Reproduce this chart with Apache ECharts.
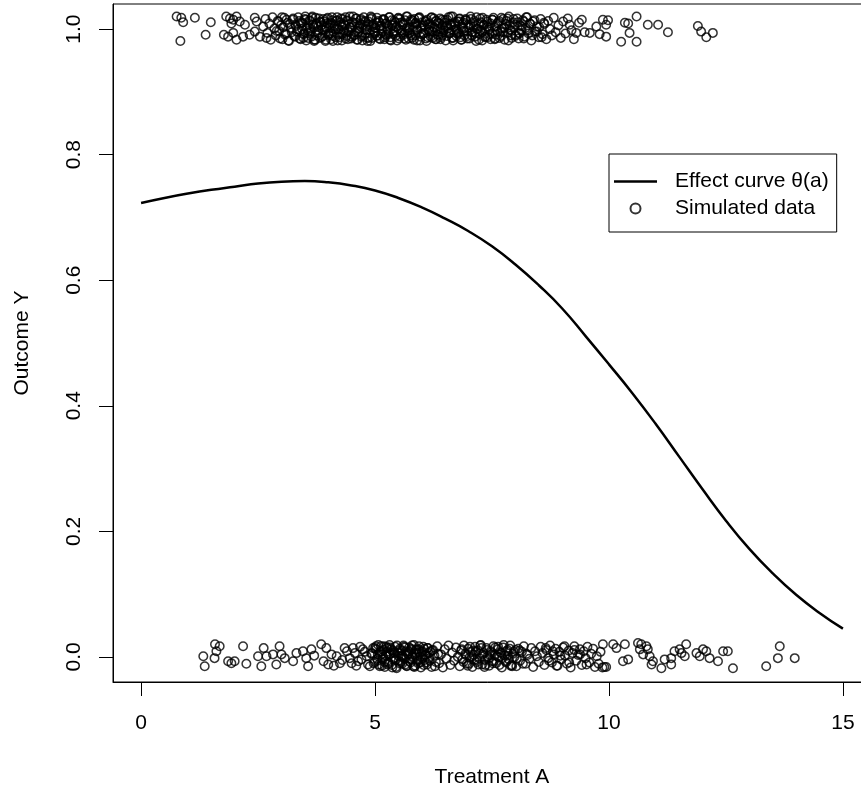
<!DOCTYPE html>
<html lang="en">

<head>
    <meta charset="UTF-8" />
    <title>Effect curve</title>
    <script src="https://cdn.jsdelivr.net/npm/echarts@6.0.0/dist/echarts.min.js"></script>
    <style>
        body { margin: 0; background: #fff; }
    </style>
</head>

<body>
    <div id="main" style="width: 861px; height: 787px"></div>
    <script type="text/javascript">
        // effect curve theta(a)
        let curveA = [0, 0.5, 1, 1.5, 2, 2.5, 3, 3.5, 4, 4.5, 5, 5.5, 6, 6.5, 7, 7.5,
            8, 8.5, 9, 9.5, 10, 10.5, 11, 11.5, 12, 12.5, 13, 13.5, 14, 14.5, 15];
        let curveY = [0.723, 0.731, 0.738, 0.744, 0.749, 0.754, 0.757, 0.758, 0.756, 0.751, 0.743,
            0.731, 0.716, 0.698, 0.678, 0.654, 0.625, 0.592, 0.555, 0.511, 0.466, 0.420,
            0.371, 0.319, 0.267, 0.217, 0.172, 0.133, 0.099, 0.070, 0.045];

        // simulated data with Y = 1 (jittered)
        let topA = [0.76, 0.86, 0.90, 0.84, 1.15, 1.38, 1.49, 1.77, 1.82, 1.90, 1.97, 2.04, 1.93, 2.11,
            2.22, 2.43, 2.47, 1.86, 1.97, 2.04, 2.18, 2.32, 2.43, 2.54, 2.68,
            2.61, 2.66, 2.70, 2.74, 2.77, 2.81, 2.85, 2.88, 2.92, 2.95, 2.99, 3.02, 3.06, 3.09, 3.13, 3.16, 3.20, 3.24,
            3.27, 3.30, 3.33, 3.36, 3.39, 3.42, 3.44, 3.47, 3.50, 3.53, 3.55, 3.58, 3.61, 3.64, 3.66, 3.69,
            3.72, 3.74, 3.77, 3.80, 3.82, 3.85, 3.88, 3.91, 3.94,
            3.96, 3.99, 4.01, 4.04, 4.06, 4.09, 4.11, 4.14, 4.16, 4.19,
            4.21, 4.24, 4.26, 4.29, 4.31, 4.34, 4.36, 4.39, 4.41, 4.44,
            4.46, 4.49, 4.51, 4.54, 4.56, 4.59, 4.61, 4.64, 4.66, 4.69,
            4.71, 4.74, 4.76, 4.79, 4.81, 4.84, 4.86, 4.89, 4.91, 4.94,
            4.96, 4.99, 5.01, 5.04, 5.06, 5.09, 5.11, 5.14, 5.16, 5.19,
            5.21, 5.24, 5.26, 5.29, 5.31, 5.34, 5.36, 5.39, 5.41, 5.44,
            5.46, 5.49, 5.51, 5.54, 5.56, 5.59, 5.61, 5.64, 5.66, 5.69,
            5.71, 5.74, 5.76, 5.79, 5.81, 5.84, 5.86, 5.89, 5.91, 5.94,
            5.96, 5.99, 6.01, 6.04, 6.06, 6.09, 6.11, 6.14, 6.16, 6.19,
            6.21, 6.24, 6.26, 6.29, 6.31, 6.34, 6.36, 6.39, 6.41, 6.44,
            6.46, 6.49, 6.51, 6.54, 6.56, 6.59, 6.61, 6.64, 6.66, 6.69,
            6.71, 6.74, 6.76, 6.79, 6.81, 6.84, 6.86, 6.89, 6.91, 6.94, 6.96,
            6.99, 7.02, 7.05, 7.08, 7.11, 7.14, 7.17, 7.20, 7.23, 7.26,
            7.29, 7.32, 7.35, 7.38, 7.41, 7.44, 7.47, 7.50, 7.53, 7.56,
            7.59, 7.62, 7.65, 7.68, 7.71, 7.74, 7.77, 7.80, 7.83, 7.86,
            7.89, 7.92, 7.95, 7.98, 8.01, 8.04, 8.07, 8.10, 8.13, 8.16,
            8.19, 8.22, 8.25, 8.28, 8.31, 8.34, 8.38, 8.42, 8.46, 8.50,
            8.54, 8.58, 8.62, 8.66, 8.70, 8.74, 8.78, 8.82, 8.86,
            8.92, 8.97, 9.02, 9.07, 9.12, 9.16, 9.20, 9.25, 9.30, 9.36, 9.42, 9.48, 9.59, 9.73, 9.80,
            9.87, 9.94, 9.94, 9.98,
            10.26, 10.34, 10.41, 10.44, 10.59, 10.59, 10.83, 11.05, 11.26, 11.90, 11.97, 12.08, 12.22];
        let topY = [1.020, 1.018, 1.011, 0.981, 1.018, 0.991, 1.011, 0.991, 1.020, 1.017, 1.015, 1.020, 1.009, 1.012,
            1.007, 1.018, 1.012, 0.988, 0.994, 0.983, 0.988, 0.991, 0.996, 0.988, 0.986,
            1.004, 1.016, 0.994, 1.009, 0.983, 1.019, 1.001, 0.990, 1.013, 0.997, 1.006, 0.984, 1.018, 0.993, 1.010, 0.981, 1.002, 1.015,
            0.989, 1.007, 0.996, 1.019, 0.985, 1.011, 1.000, 0.992, 1.016, 0.982, 1.005, 0.997, 1.013, 0.988, 1.020, 1.003,
            0.983, 1.009, 0.994, 1.017, 0.986, 1.006, 0.999, 1.012, 0.981,
            1.002, 1.018, 0.990, 1.008, 0.984, 1.014, 0.996, 1.004, 0.987, 1.019,
            1.000, 0.992, 1.011, 0.982, 1.016, 0.998, 1.006, 0.989, 1.013, 0.995,
            1.020, 0.985, 1.003, 1.010, 0.991, 1.017, 0.983, 1.001, 0.997, 1.014,
            0.988, 1.007, 1.019, 0.993, 1.004, 0.981, 1.012, 0.999, 1.016, 0.986,
            1.008, 0.995, 1.002, 1.018, 0.990, 1.011, 0.984, 1.005, 0.997, 1.015,
            0.987, 1.009, 1.001, 0.992, 1.019, 0.982, 1.006, 0.996, 1.013, 0.989,
            1.003, 1.017, 0.985, 1.010, 0.998, 1.007, 0.991, 1.014, 0.983, 1.020,
            1.000, 0.994, 1.012, 0.986, 1.004, 1.016, 0.990, 1.008, 0.997, 1.018,
            0.982, 1.002, 1.011, 0.993, 1.006, 0.985, 1.015, 0.999, 1.009, 0.988,
            1.019, 0.996, 1.003, 0.984, 1.013, 1.000, 0.991, 1.017, 0.987, 1.006,
            0.995, 1.010, 0.982, 1.015, 1.001, 0.993, 1.008, 0.986, 1.020, 0.998,
            1.005, 0.989, 1.012, 0.994, 1.017, 0.983, 1.003, 1.010, 0.990, 1.014, 0.997,
            1.007, 0.985, 1.016, 0.995, 1.004, 0.988, 1.019, 1.000, 0.992, 1.011,
            0.982, 1.006, 0.997, 1.015, 0.987, 1.002, 1.009, 0.993, 1.018, 0.984,
            1.005, 0.996, 1.013, 0.989, 1.001, 1.016, 0.983, 1.008, 0.994, 1.020,
            0.999, 0.986, 1.011, 1.003, 0.991, 1.017, 0.985, 1.006, 0.998, 1.014,
            0.988, 1.002, 1.019, 0.993, 1.009, 0.982, 1.012, 0.996, 1.004, 0.987,
            1.016, 0.992, 1.008, 0.984, 1.013, 1.000, 0.990, 1.018, 0.995,
            1.006, 0.986, 1.012, 0.993, 1.017, 1.007, 0.998, 0.984, 0.994, 1.010, 1.015, 0.995, 0.994, 1.004, 0.992,
            1.015, 0.988, 1.007, 1.014,
            0.980, 1.010, 1.009, 0.994, 1.020, 0.980, 1.007, 1.007, 0.995, 1.005, 0.996, 0.987, 0.994];

        // the black core of the Y = 1 band
        let topDenseA = [2.90, 2.94, 2.97, 3.01, 3.04, 3.08, 3.11, 3.15, 3.18, 3.22,
            3.25, 3.29, 3.31, 3.35, 3.38, 3.41, 3.45, 3.48, 3.51, 3.54,
            3.57, 3.60, 3.63, 3.67, 3.70, 3.73, 3.76, 3.79, 3.83, 3.86,
            3.89, 3.92, 3.95, 3.98, 4.02, 4.05, 4.08, 4.10, 4.13, 4.17,
            4.20, 4.23, 4.27, 4.30, 4.33, 4.37, 4.40, 4.43, 4.47, 4.50,
            4.53, 4.57, 4.60, 4.63, 4.67, 4.70, 4.73, 4.77, 4.80, 4.83,
            4.87, 4.90, 4.93, 4.97, 5.00, 5.03, 5.07, 5.10, 5.13, 5.17,
            5.20, 5.23, 5.27, 5.30, 5.33, 5.37, 5.40, 5.43, 5.47, 5.50,
            5.53, 5.57, 5.60, 5.63, 5.67, 5.70, 5.73, 5.77, 5.80, 5.83,
            5.87, 5.90, 5.93, 5.97, 6.00, 6.03, 6.07, 6.10, 6.13, 6.17,
            6.20, 6.23, 6.27, 6.30, 6.33, 6.37, 6.40, 6.43, 6.47, 6.50,
            6.53, 6.57, 6.60, 6.63, 6.67, 6.70, 6.73, 6.77, 6.80, 6.83,
            6.87, 6.90, 6.93, 6.97, 7.00, 7.04, 7.07, 7.11, 7.15, 7.18,
            7.22, 7.25, 7.29, 7.33, 7.36, 7.40, 7.43, 7.47, 7.51, 7.55,
            7.58, 7.62, 7.66, 7.70, 7.73, 7.77, 7.81, 7.85, 7.88, 7.92,
            7.96, 8.00, 8.05, 8.09, 8.14, 8.18, 8.23, 8.27, 8.32, 8.36,
            8.41, 8.46, 8.51, 8.56, 8.61];
        let topDenseY = [0.997, 1.012, 0.985, 1.019, 1.003, 0.991, 1.015, 0.982, 1.008, 0.995,
            1.017, 0.988, 1.005, 0.999, 1.013, 0.984, 1.010, 0.993, 1.020, 1.001,
            0.986, 1.014, 0.996, 1.007, 0.981, 1.018, 0.990, 1.004, 1.011, 0.987,
            1.016, 0.998, 0.983, 1.009, 1.002, 0.994, 1.019, 0.989, 1.006, 1.013,
            0.982, 1.000, 1.017, 0.992, 1.008, 0.985, 1.014, 0.997, 1.003, 0.988,
            1.020, 0.995, 1.010, 0.983, 1.005, 1.016, 0.990, 0.999, 1.012, 0.986,
            1.007, 0.981, 1.018, 0.996, 1.002, 0.989, 1.013, 1.004, 0.993, 1.015,
            0.984, 1.009, 0.998, 1.019, 0.987, 1.006, 0.992, 1.011, 0.982, 1.001,
            1.016, 0.994, 1.008, 0.985, 1.020, 0.997, 1.003, 0.990, 1.014, 0.983,
            1.010, 0.999, 1.017, 0.988, 1.005, 0.993, 1.012, 0.981, 1.007, 0.996,
            1.018, 0.986, 1.002, 1.013, 0.991, 1.009, 0.984, 1.015, 0.998, 1.004,
            0.989, 1.019, 0.995, 1.006, 0.982, 1.011, 1.000, 0.992, 1.016, 0.987,
            1.008, 0.997, 1.014, 0.985, 1.003, 1.020, 0.990, 1.010, 0.994, 1.001,
            0.983, 1.017, 0.996, 1.007, 0.988, 1.012, 0.999, 0.984, 1.015, 1.004,
            0.991, 1.009, 0.986, 1.018, 0.995, 1.002, 1.013, 0.982, 1.006, 0.997,
            1.016, 0.989, 1.011, 0.993, 1.004, 0.985, 1.019, 0.998, 1.008, 0.990,
            1.014, 0.996, 1.003, 0.987, 1.010];
        let topCoreA = [3.42, 3.47, 3.52, 3.56, 3.61, 3.65, 3.70, 3.74, 3.79, 3.83,
            3.88, 3.92, 3.97, 4.01, 4.06, 4.10, 4.15, 4.19, 4.24, 4.28,
            4.33, 4.37, 4.42, 4.46, 4.51, 4.55, 4.60, 4.64, 4.69, 4.73,
            4.78, 4.82, 4.87, 4.91, 4.96, 5.00, 5.05, 5.09, 5.14, 5.18,
            5.23, 5.27, 5.32, 5.36, 5.41, 5.45, 5.50, 5.54, 5.59, 5.63,
            5.68, 5.72, 5.77, 5.81, 5.86, 5.90, 5.95, 5.99, 6.04, 6.08,
            6.13, 6.17, 6.22, 6.26, 6.31, 6.35, 6.40, 6.44, 6.49, 6.53,
            6.58, 6.62, 6.67, 6.71, 6.76, 6.80, 6.85, 6.89, 6.94, 6.98,
            7.03, 7.07, 7.12, 7.16, 7.21, 7.25, 7.30, 7.35, 7.40, 7.45,
            7.51, 7.57, 7.63, 7.69, 7.76, 7.83, 7.91, 7.99, 8.08, 8.18];
        let topCoreY = [1.009, 0.986, 1.015, 0.994, 1.002, 1.018, 0.983, 1.007, 0.998, 1.012,
            0.989, 1.004, 1.016, 0.992, 1.010, 0.981, 1.000, 1.014, 0.987, 1.006,
            0.996, 1.019, 0.984, 1.003, 1.011, 0.990, 1.017, 0.995, 1.008, 0.982,
            1.013, 0.999, 0.986, 1.020, 1.005, 0.993, 1.010, 0.985, 1.001, 1.016,
            0.991, 1.007, 0.983, 1.014, 0.997, 1.004, 1.018, 0.988, 1.011, 0.994,
            1.002, 0.985, 1.015, 0.999, 1.009, 0.982, 1.019, 0.992, 1.006, 1.013,
            0.987, 1.003, 0.996, 1.017, 0.984, 1.010, 1.000, 0.990, 1.014, 1.005,
            0.993, 1.020, 0.986, 1.008, 0.997, 1.012, 0.983, 1.001, 1.016, 0.989,
            1.006, 0.995, 1.013, 0.981, 1.009, 0.998, 1.018, 0.987, 1.004, 0.992,
            1.015, 0.985, 1.011, 0.996, 1.002, 1.017, 0.990, 1.007, 0.994, 1.012];

        // simulated data with Y = 0 (jittered)
        let bottomA = [1.33, 1.36, 1.58, 1.68, 1.61, 1.57, 1.86, 1.93, 2.00, 2.18, 2.25, 2.50, 2.57, 2.62,
            2.68, 2.82, 2.89, 2.96, 3.00, 3.07, 3.25, 3.32, 3.46, 3.53, 3.57, 3.64, 3.70, 3.85, 3.90, 3.96,
            4.00, 4.07, 4.12, 4.18, 4.25, 4.30, 4.35, 4.40, 4.46, 4.50, 4.53, 4.57, 4.60, 4.64, 4.68, 4.71,
            4.74, 4.78, 4.82, 4.85, 4.89, 4.92, 4.96, 4.99, 5.02, 5.06,
            5.08, 5.11, 5.13, 5.16, 5.18, 5.21, 5.23, 5.26, 5.28, 5.31,
            5.33, 5.36, 5.38, 5.41, 5.43, 5.46, 5.48, 5.51, 5.53, 5.56,
            5.58, 5.61, 5.63, 5.66, 5.68, 5.71, 5.73, 5.76, 5.78, 5.81,
            5.83, 5.86, 5.88, 5.91, 5.93, 5.96, 5.98, 6.01, 6.03, 6.06,
            6.08, 6.11, 6.13, 6.16, 6.18, 6.21, 6.24, 6.27, 6.30,
            6.33, 6.37, 6.41, 6.45, 6.49, 6.53, 6.57, 6.61, 6.65, 6.69,
            6.73, 6.77, 6.81, 6.84, 6.87, 6.90, 6.93, 6.96, 6.99, 7.02,
            7.05, 7.08, 7.11, 7.14, 7.17, 7.20, 7.23, 7.26, 7.29, 7.32,
            7.35, 7.38, 7.41, 7.44, 7.47, 7.50, 7.53, 7.56, 7.59, 7.62,
            7.65, 7.68, 7.71, 7.74, 7.77, 7.80, 7.83, 7.86, 7.89, 7.92,
            7.95, 7.98, 8.02, 8.06, 8.10, 8.14, 8.18, 8.22, 8.26, 8.30,
            8.34, 8.38, 8.42, 8.46, 8.50, 8.54, 8.58, 8.62, 8.66, 8.70,
            8.74, 8.78, 8.82, 8.86, 8.90, 8.94, 8.98, 9.02, 9.06, 9.10,
            9.14, 9.18, 9.22, 9.26, 9.30, 9.34, 9.38, 9.42, 9.46, 9.50,
            9.54, 9.58, 9.62, 9.66, 9.70, 9.74, 9.78, 9.82, 9.86, 9.90, 9.94,
            9.87, 10.09, 10.16, 10.34, 10.30, 10.41, 10.62, 10.69, 10.66, 10.80, 10.83, 10.73, 10.87,
            10.91, 10.94, 11.12, 11.19, 11.33, 11.33, 11.40, 11.51, 11.55, 11.62, 11.65, 11.87, 11.94,
            12.01, 12.08, 12.15, 12.33, 12.44, 12.54, 12.65, 13.36, 13.61, 13.65, 13.97];
        let bottomY = [0.001, -0.015, 0.020, 0.017, 0.009, -0.002, -0.007, -0.010, -0.007, 0.017, -0.011, 0.001, -0.015, 0.014,
            0.001, 0.004, -0.012, 0.017, 0.004, -0.002, -0.007, 0.006, 0.009, -0.002, -0.015, 0.012, 0.002, 0.020, -0.007, 0.014,
            -0.012, 0.004, -0.014, 0.001, -0.010, -0.005, 0.014, 0.009, -0.002, -0.010, 0.014, 0.006, -0.014, -0.007, 0.016, -0.004,
            0.012, 0.008, 0.001, -0.012, -0.015, 0.005, 0.014, -0.008, 0.017, 0.004,
            -0.012, 0.008, 0.017, -0.004, 0.011, -0.016, 0.002, 0.014, -0.008, 0.019,
            0.005, -0.013, 0.010, -0.002, 0.016, -0.018, 0.007, -0.006, 0.013, 0.001,
            -0.011, 0.018, -0.003, 0.009, -0.015, 0.004, 0.015, -0.009, 0.011, -0.001,
            0.019, -0.014, 0.006, -0.007, 0.012, 0.000, -0.017, 0.009, 0.016, -0.005,
            0.003, -0.012, 0.014, -0.002, 0.008, -0.016, 0.011, 0.002, -0.008,
            0.017, -0.010, 0.004, -0.017, 0.012, -0.003, 0.018, -0.013, 0.007, -0.006,
            0.015, 0.000, -0.015, 0.010, -0.004, 0.018, 0.005, -0.011, 0.013, -0.001,
            0.008, -0.016, 0.003, 0.016, -0.008, 0.010, -0.002, 0.019, -0.012, 0.006,
            -0.005, 0.014, 0.001, -0.014, 0.009, -0.007, 0.017, 0.003, -0.010, 0.012,
            -0.001, 0.007, -0.017, 0.015, 0.002, -0.009, 0.011, -0.004, 0.018, -0.013,
            0.005, 0.000, -0.015, 0.013, -0.006, 0.008, 0.017, -0.011, 0.003, -0.003,
            0.014, -0.016, 0.009, 0.001, -0.008, 0.016, 0.006, -0.013, 0.011, -0.002,
            0.018, -0.009, 0.004, 0.013, -0.014, 0.008, -0.004, 0.015, 0.002, -0.011,
            0.010, -0.017, 0.006, 0.017, -0.006, 0.003, 0.012, -0.013, 0.009, -0.002,
            0.016, -0.009, 0.005, 0.013, -0.016, 0.001, -0.011, 0.008, -0.017, -0.016, -0.016,
            0.020, 0.020, 0.014, 0.020, -0.007, -0.004, 0.022, 0.020, 0.012, 0.017, 0.012, 0.004, 0.001,
            -0.012, -0.007, -0.018, -0.004, -0.012, -0.002, 0.009, 0.012, 0.006, 0.001, 0.020, 0.006, 0.001,
            0.012, 0.009, -0.002, -0.007, 0.009, 0.009, -0.018, -0.015, -0.002, 0.017, -0.002];

        // the denser stretches of the Y = 0 band
        let bottomDenseA = [4.93, 4.97, 5.00, 5.04, 5.07, 5.10, 5.14, 5.17, 5.20, 5.24,
            5.27, 5.30, 5.34, 5.37, 5.40, 5.44, 5.47, 5.50, 5.54, 5.57,
            5.60, 5.64, 5.67, 5.70, 5.74, 5.77, 5.80, 5.84, 5.87, 5.90,
            5.94, 5.97, 6.00, 6.04, 6.08, 6.12, 6.17, 6.22, 6.28, 6.35,
            6.85, 6.89, 6.94, 6.98, 7.03, 7.07, 7.12, 7.16, 7.21, 7.25,
            7.30, 7.34, 7.39, 7.43, 7.48, 7.52, 7.57, 7.61, 7.66, 7.70,
            7.75, 7.79, 7.84, 7.88, 7.93, 7.97, 8.03, 8.09, 8.16, 8.24,
            8.65, 8.72, 8.80, 8.88, 8.96, 9.05, 9.15, 9.26, 9.38, 9.52,
            5.02, 5.06, 5.12, 5.15, 5.19, 5.25, 5.29, 5.32, 5.39, 5.42,
            5.45, 5.52, 5.55, 5.59, 5.62, 5.65, 5.72, 5.75, 5.79, 5.82,
            5.85, 5.89, 5.92, 5.95, 6.02, 6.05, 6.10, 6.15, 7.01, 7.09,
            7.18, 7.27, 7.36, 7.45, 7.54, 7.63, 7.72, 7.81, 7.90, 8.00];
        let bottomDenseY = [0.006, -0.010, 0.014, -0.003, 0.019, -0.015, 0.009, 0.000, -0.008, 0.016,
            -0.012, 0.004, 0.012, -0.017, 0.007, -0.005, 0.018, 0.002, -0.011, 0.010,
            -0.001, 0.015, -0.014, 0.005, -0.007, 0.013, 0.001, -0.016, 0.011, -0.004,
            0.017, -0.009, 0.008, -0.013, 0.003, 0.014, -0.006, 0.010, -0.015, 0.005,
            0.012, -0.008, 0.003, -0.014, 0.016, 0.000, -0.005, 0.009, -0.012, 0.018,
            0.004, -0.016, 0.011, -0.002, 0.007, -0.010, 0.015, 0.001, -0.013, 0.006,
            0.019, -0.007, 0.002, 0.013, -0.015, 0.008, -0.003, 0.010, -0.011, 0.005,
            0.014, -0.006, 0.009, -0.014, 0.002, 0.017, -0.009, 0.011, 0.004, -0.012,
            0.012, -0.006, 0.003, -0.014, 0.017, 0.008, -0.010, 0.015, -0.003, 0.006,
            -0.016, 0.010, -0.008, 0.002, 0.016, -0.012, 0.008, -0.004, 0.018, -0.015,
            0.004, 0.012, -0.010, 0.007, -0.002, 0.013, -0.009, 0.006, -0.011, 0.010,
            -0.005, 0.014, -0.013, 0.003, -0.007, 0.016, -0.002, 0.009, -0.014, 0.011];

        let xTicks = [0, 5, 10, 15];
        let yTicks = [0, 0.2, 0.4, 0.6, 0.8, 1.0];

        let curveData = curveA.map((a, i) => [a, curveY[i]]);
        let pointData = [];
        let addPoints = (xs, ys) => {
            for (let i = 0; i < xs.length; i++) pointData.push([xs[i], ys[i]]);
        };
        addPoints(topA, topY);
        addPoints(topDenseA, topDenseY);
        addPoints(topCoreA, topCoreY);
        addPoints(bottomA, bottomY);
        addPoints(bottomDenseA, bottomDenseY);

        let font = "'Liberation Sans', Arial, Helvetica, sans-serif";

        let options = {
            animation: false,
            backgroundColor: "#fff",
            textStyle: { fontFamily: font, color: "#000" },
            grid: {
                left: 113, top: 4, width: 758, height: 678,
                show: true, borderColor: "#000", borderWidth: 1,
                containLabel: false, outerBoundsMode: "none",
            },
            legend: {
                orient: "vertical",
                left: 609, top: 154,
                padding: [17, 8, 13, 5],
                borderColor: "#000", borderWidth: 1,
                itemWidth: 43, itemHeight: 10, itemGap: 6,
                textStyle: { fontFamily: font, fontSize: 21, color: "#000", padding: [0, 0, 0, 13] },
                data: [
                    { name: "Effect curve θ(a)", icon: "path://M0,0h43v2.5h-43z" },
                    { name: "Simulated data" },
                ],
            },
            xAxis: {
                type: "value",
                min: -0.6, max: 15.6,
                name: "Treatment A",
                nameLocation: "middle",
                nameGap: 85,
                nameTextStyle: { fontSize: 21, color: "#000" },
                axisLine: { show: true, onZero: false, lineStyle: { color: "#000", width: 1 } },
                axisTick: { show: true, length: 14, customValues: xTicks, lineStyle: { color: "#000" } },
                axisLabel: { customValues: xTicks, fontSize: 21, color: "#000", margin: 31 },
                splitLine: { show: false },
            },
            yAxis: {
                type: "value",
                min: -0.04, max: 1.04,
                name: "Outcome Y",
                nameLocation: "middle",
                nameGap: 80,
                nameTextStyle: { fontSize: 21, color: "#000" },
                axisLine: { show: true, onZero: false, lineStyle: { color: "#000", width: 1 } },
                axisTick: { show: true, length: 14, customValues: yTicks, lineStyle: { color: "#000" } },
                axisLabel: {
                    customValues: yTicks, fontSize: 21, color: "#000", margin: 28, rotate: 90,
                    formatter: (v) => v.toFixed(1),
                },
                splitLine: { show: false },
            },
            series: [
                {
                    name: "Simulated data",
                    type: "scatter",
                    symbol: "circle",
                    symbolSize: 8.5,
                    itemStyle: { color: "rgba(0,0,0,0)", borderColor: "#000", borderWidth: 1.5 },
                    data: pointData,
                },
                {
                    name: "Effect curve θ(a)",
                    type: "line",
                    smooth: 0.5,
                    symbol: "none",
                    lineStyle: { color: "#000", width: 2.5 },
                    itemStyle: { color: "#000" },
                    data: curveData,
                },
            ],
        };

        let myChart = echarts.init(document.getElementById("main"));
        myChart.setOption(options);
    </script>
</body>

</html>
